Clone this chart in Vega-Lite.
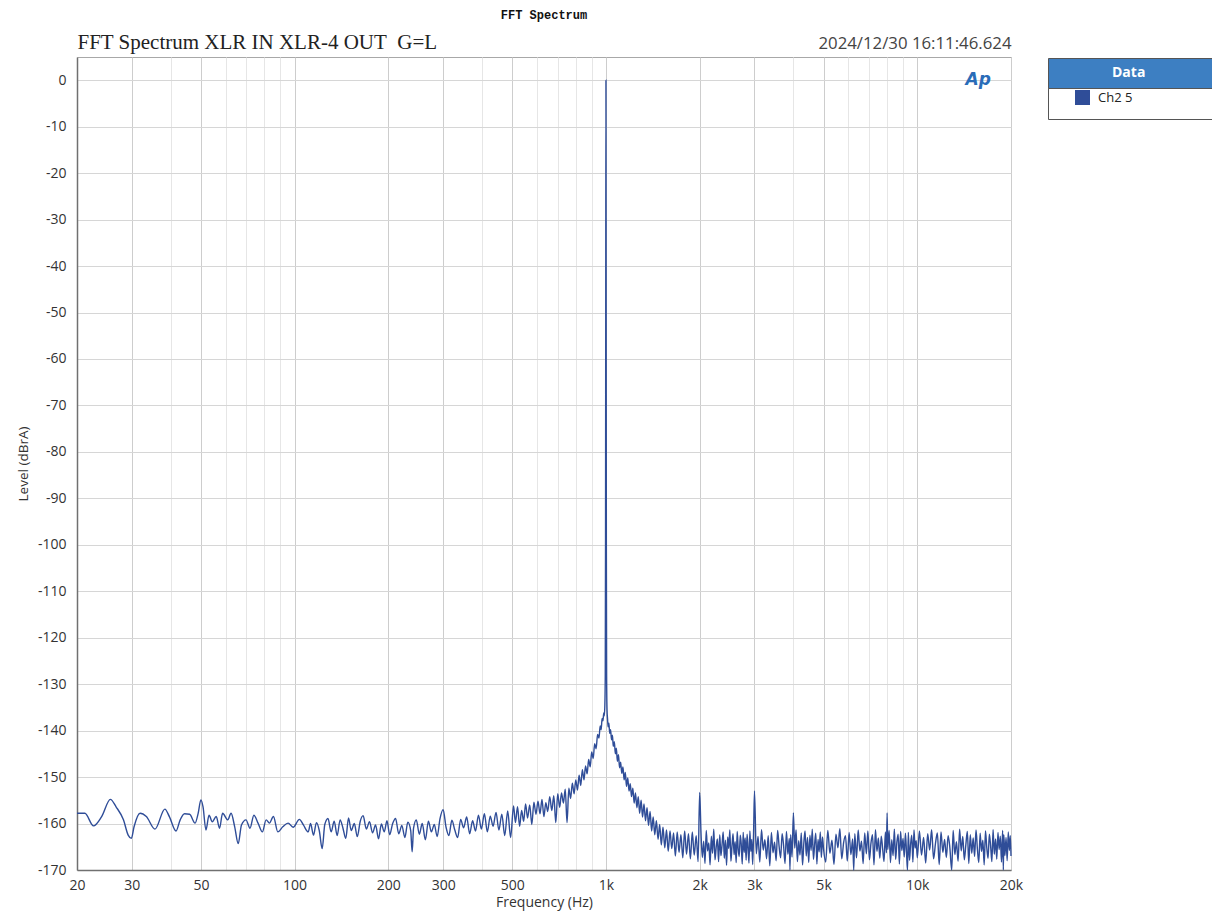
{
"$schema": "https://vega.github.io/schema/vega-lite/v6.json",
"width": 934, "height": 813,
"autosize": {"type": "none"},
"padding": {"left": 77, "top": 57, "right": 201, "bottom": 44},
"background": "white",
"config": {"view": {"stroke": "#a8a8a8"}, "font": "Open Sans"},
"title": {"text": "FFT Spectrum", "font": "Liberation Mono", "fontSize": 12, "fontWeight": "bold", "color": "#111", "anchor": "middle", "frame": "group", "offset": 9},
"datasets": {"spectrum": [
{"hz":20,"db":-157.8},{"hz":21.2,"db":-157.8},{"hz":22.6,"db":-160.5},{"hz":24,"db":-158.5},{"hz":25.6,"db":-154.8},{"hz":26.7,"db":-156.4},{"hz":28.2,"db":-159.2},{"hz":29.2,"db":-162.5},{"hz":29.9,"db":-163.2},{"hz":30.5,"db":-160.7},{"hz":31.9,"db":-157.8},{"hz":33.4,"db":-158.5},{"hz":35.6,"db":-161.2},{"hz":38.3,"db":-156.9},{"hz":39.6,"db":-158.5},{"hz":41.6,"db":-161.6},{"hz":42.9,"db":-159.2},{"hz":44.3,"db":-157.9},{"hz":46,"db":-158},{"hz":47.9,"db":-159.9},{"hz":49,"db":-157.8},{"hz":50,"db":-154.9},{"hz":50.8,"db":-156.4},{"hz":51.9,"db":-161.4},{"hz":53.1,"db":-158.2},{"hz":54.4,"db":-159.6},{"hz":56,"db":-158.5},{"hz":57.4,"db":-161},{"hz":58.7,"db":-157.8},{"hz":61,"db":-159.2},{"hz":62.5,"db":-157.8},{"hz":64.2,"db":-160.7},{"hz":65.9,"db":-164.3},{"hz":67.5,"db":-160.3},{"hz":69.8,"db":-159.2},{"hz":71.9,"db":-161},{"hz":74,"db":-158.2},{"hz":76.3,"db":-159.9},{"hz":78.8,"db":-161.8},{"hz":81,"db":-159.2},{"hz":83,"db":-159.9},{"hz":85.5,"db":-158.5},{"hz":88.3,"db":-161.8},{"hz":91.6,"db":-160.7},{"hz":95.3,"db":-159.9},{"hz":98.9,"db":-160.8},{"hz":103.6,"db":-159.1},{"hz":106.7,"db":-160.3},{"hz":110.6,"db":-161.8},
{"hz":112.5,"db":-160.0},{"hz":115,"db":-162.5},{"hz":117.5,"db":-159.8},{"hz":120,"db":-161.5},{"hz":122.6,"db":-165.4},{"hz":125,"db":-160.2},{"hz":128,"db":-158.9},{"hz":131,"db":-161.8},{"hz":134,"db":-159.5},{"hz":137,"db":-162.6},{"hz":140,"db":-159.2},{"hz":143,"db":-161.0},{"hz":146,"db":-163.2},{"hz":149,"db":-158.8},{"hz":152,"db":-161.5},{"hz":155.5,"db":-160.0},{"hz":159,"db":-162.8},{"hz":162.5,"db":-159.5},{"hz":166,"db":-158.3},{"hz":170,"db":-161.2},{"hz":174,"db":-159.6},{"hz":178,"db":-162.0},{"hz":182,"db":-160.3},{"hz":186,"db":-163.3},{"hz":190,"db":-160.1},{"hz":194,"db":-161.8},{"hz":198,"db":-159.4},{"hz":202,"db":-162.4},{"hz":206.5,"db":-160.0},{"hz":211,"db":-158.9},{"hz":216,"db":-162.2},{"hz":221,"db":-160.4},{"hz":226,"db":-163.0},{"hz":231,"db":-159.7},{"hz":236,"db":-161.5},{"hz":238.5,"db":-166.1},{"hz":241,"db":-161.0},{"hz":246,"db":-159.2},{"hz":251.5,"db":-162.3},{"hz":257,"db":-160.0},{"hz":263,"db":-163.5},{"hz":269,"db":-159.5},{"hz":275,"db":-161.8},{"hz":281,"db":-160.2},{"hz":287,"db":-162.8},{"hz":293,"db":-159.0},{"hz":300,"db":-157.0},{"hz":306.5,"db":-160.8},{"hz":313,"db":-162.6},{"hz":320,"db":-159.3},{"hz":327,"db":-161.4},{"hz":334,"db":-163.0},{"hz":341.5,"db":-159.1},{"hz":349,"db":-160.9},{"hz":357,"db":-158.6},{"hz":365,"db":-162.2},{"hz":373,"db":-159.4},{"hz":381,"db":-161.6},{"hz":389.5,"db":-158.2},{"hz":398,"db":-161.2},{"hz":407,"db":-157.9},{"hz":416,"db":-161.8},{"hz":425,"db":-158.4},{"hz":434,"db":-160.6},{"hz":443.5,"db":-157.6},{"hz":453,"db":-161.4},{"hz":463,"db":-158.0},{"hz":473,"db":-162.6},{"hz":483.5,"db":-157.3},{"hz":494,"db":-163.0},{"hz":505,"db":-156.2},
{"hz":512,"db":-159.8},{"hz":520,"db":-156.4},{"hz":528,"db":-160.6},{"hz":536,"db":-157.2},{"hz":544,"db":-159.5},{"hz":552,"db":-155.8},{"hz":560,"db":-158.8},{"hz":569,"db":-156.0},{"hz":578,"db":-160.2},{"hz":587,"db":-155.4},{"hz":596,"db":-158.0},{"hz":605,"db":-155.2},{"hz":614,"db":-157.9},{"hz":623,"db":-154.8},{"hz":632,"db":-158.5},{"hz":641,"db":-155.5},{"hz":650,"db":-157.4},{"hz":660,"db":-154.2},{"hz":670,"db":-157.2},{"hz":680,"db":-154.0},{"hz":690,"db":-159.8},{"hz":700,"db":-153.6},{"hz":710,"db":-156.5},{"hz":720,"db":-153.4},{"hz":730,"db":-155.6},{"hz":740,"db":-152.6},{"hz":750,"db":-159.8},{"hz":760,"db":-152.4},{"hz":770,"db":-154.6},{"hz":780,"db":-151.3},{"hz":790,"db":-153.6},{"hz":800,"db":-150.6},{"hz":810,"db":-152.8},{"hz":820,"db":-149.6},{"hz":830,"db":-151.8},{"hz":840,"db":-148.4},{"hz":850,"db":-150.6},{"hz":860,"db":-147.6},{"hz":870,"db":-149.3},{"hz":880,"db":-146.2},{"hz":890,"db":-147.8},{"hz":900,"db":-144.6},{"hz":910,"db":-146.0},{"hz":920,"db":-142.8},{"hz":930,"db":-143.9},{"hz":940,"db":-140.8},{"hz":950,"db":-141.6},{"hz":958,"db":-139.0},{"hz":965,"db":-139.8},{"hz":972,"db":-137.4},{"hz":978,"db":-137.9},{"hz":984,"db":-136.2},{"hz":988,"db":-136.8},{"hz":992,"db":-134.5},{"hz":995,"db":-128},{"hz":997,"db":-100},{"hz":998.5,"db":-50},{"hz":1000,"db":0},{"hz":1001.5,"db":-50},{"hz":1003,"db":-100},{"hz":1005,"db":-128},{"hz":1008,"db":-135.5},{"hz":1012,"db":-137.5},
{"hz":1016,"db":-139.2},{"hz":1022,"db":-138.4},{"hz":1028,"db":-140.6},{"hz":1035,"db":-139.8},{"hz":1042,"db":-142.0},{"hz":1049,"db":-141.0},{"hz":1056,"db":-143.4},{"hz":1064,"db":-142.4},{"hz":1072,"db":-145.0},{"hz":1080,"db":-143.8},{"hz":1088,"db":-146.6},{"hz":1097,"db":-145.2},{"hz":1106,"db":-148.0},{"hz":1115,"db":-146.8},{"hz":1124,"db":-149.2},{"hz":1134,"db":-147.8},{"hz":1144,"db":-150.6},{"hz":1154,"db":-149.0},{"hz":1164,"db":-152.0},{"hz":1175,"db":-150.2},{"hz":1186,"db":-153.0},{"hz":1197,"db":-151.4},{"hz":1208,"db":-154.2},{"hz":1220,"db":-152.4},{"hz":1232,"db":-155.6},{"hz":1244,"db":-153.4},{"hz":1257,"db":-156.6},{"hz":1270,"db":-154.2},{"hz":1283,"db":-157.8},{"hz":1297,"db":-155.0},{"hz":1311,"db":-158.6},{"hz":1325,"db":-155.8},{"hz":1340,"db":-159.4},{"hz":1355,"db":-156.6},{"hz":1370,"db":-160.4},{"hz":1386,"db":-157.4},{"hz":1402,"db":-161.6},{"hz":1418,"db":-158.6},{"hz":1435,"db":-162.4},{"hz":1452,"db":-159.4},{"hz":1470,"db":-163.4},{"hz":1488,"db":-160.2},{"hz":1506,"db":-164.6},{"hz":1525,"db":-160.8},{"hz":1545,"db":-165.2},{"hz":1565,"db":-161.4},{"hz":1585,"db":-166.0},{"hz":1606,"db":-161.6},{"hz":1627,"db":-165.4},{"hz":1649,"db":-162.0},{"hz":1671,"db":-167.0},{"hz":1694,"db":-161.8},{"hz":1717,"db":-166.2},{"hz":1741,"db":-162.4},{"hz":1765,"db":-167.4},{"hz":1790,"db":-161.6},{"hz":1815,"db":-166.6},{"hz":1841,"db":-162.2},{"hz":1867,"db":-167.6},{"hz":1894,"db":-161.8},{"hz":1921,"db":-166.8},{"hz":1949,"db":-162.6},{"hz":1977,"db":-168.2},
{"hz":2000,"db":-153.3},{"hz":2020,"db":-162.1},{"hz":2040,"db":-167.3},{"hz":2060,"db":-163.8},{"hz":2080,"db":-168.6},{"hz":2100,"db":-161.5},{"hz":2120,"db":-165.9},{"hz":2140,"db":-164.2},{"hz":2160,"db":-168.9},{"hz":2180,"db":-162.7},{"hz":2200,"db":-166.4},{"hz":2220,"db":-161.2},{"hz":2240,"db":-167.8},{"hz":2260,"db":-165.1},{"hz":2280,"db":-163.3},{"hz":2300,"db":-168.2},{"hz":2320,"db":-162.4},{"hz":2340,"db":-166.9},{"hz":2360,"db":-164.6},{"hz":2380,"db":-161.8},{"hz":2400,"db":-167.5},{"hz":2420,"db":-163.6},{"hz":2440,"db":-169.0},{"hz":2460,"db":-162.9},{"hz":2480,"db":-165.4},{"hz":2500,"db":-161.4},{"hz":2520,"db":-168.1},{"hz":2540,"db":-164.9},{"hz":2560,"db":-162.2},{"hz":2580,"db":-166.7},{"hz":2600,"db":-163.9},{"hz":2620,"db":-168.4},{"hz":2640,"db":-161.7},{"hz":2660,"db":-165.6},{"hz":2680,"db":-167.1},{"hz":2700,"db":-162.5},{"hz":2720,"db":-164.4},{"hz":2740,"db":-168.7},{"hz":2760,"db":-161.9},{"hz":2780,"db":-166.2},{"hz":2800,"db":-163.1},{"hz":2820,"db":-167.9},{"hz":2840,"db":-162.3},{"hz":2860,"db":-165.2},{"hz":2880,"db":-168.5},{"hz":2900,"db":-161.6},{"hz":2920,"db":-166.0},{"hz":2940,"db":-163.4},{"hz":2960,"db":-168.8},{"hz":2980,"db":-162.0},
{"hz":3000,"db":-153.0},{"hz":3040,"db":-166.5},{"hz":3080,"db":-162.8},{"hz":3120,"db":-168.3},{"hz":3160,"db":-161.3},{"hz":3200,"db":-165.7},{"hz":3240,"db":-163.5},{"hz":3280,"db":-167.6},{"hz":3320,"db":-162.6},{"hz":3360,"db":-169.1},{"hz":3400,"db":-161.9},{"hz":3440,"db":-166.3},{"hz":3480,"db":-164.0},{"hz":3520,"db":-168.0},{"hz":3560,"db":-161.5},{"hz":3600,"db":-165.0},{"hz":3640,"db":-167.4},{"hz":3680,"db":-162.2},{"hz":3720,"db":-164.7},{"hz":3760,"db":-168.6},{"hz":3800,"db":-161.7},{"hz":3840,"db":-166.6},{"hz":3880,"db":-163.2},{"hz":3900,"db":-170.0},{"hz":3920,"db":-162.4},{"hz":3960,"db":-167.2},{"hz":4000,"db":-157.7},{"hz":4040,"db":-165.3},{"hz":4080,"db":-161.4},{"hz":4120,"db":-168.2},{"hz":4160,"db":-163.7},{"hz":4200,"db":-166.8},{"hz":4240,"db":-162.0},{"hz":4280,"db":-168.9},{"hz":4320,"db":-164.3},{"hz":4360,"db":-161.6},{"hz":4400,"db":-167.0},{"hz":4440,"db":-163.0},{"hz":4480,"db":-168.4},{"hz":4520,"db":-162.5},{"hz":4560,"db":-165.8},{"hz":4600,"db":-161.2},{"hz":4640,"db":-167.7},{"hz":4680,"db":-164.5},{"hz":4720,"db":-162.1},{"hz":4760,"db":-168.7},{"hz":4800,"db":-163.4},{"hz":4840,"db":-166.1},{"hz":4880,"db":-161.8},{"hz":4920,"db":-167.3},{"hz":4960,"db":-162.9},
{"hz":5000,"db":-165.5},{"hz":5080,"db":-168.3},{"hz":5160,"db":-161.5},{"hz":5240,"db":-166.4},{"hz":5320,"db":-163.6},{"hz":5400,"db":-168.8},{"hz":5480,"db":-162.3},{"hz":5560,"db":-165.2},{"hz":5640,"db":-161.1},{"hz":5720,"db":-167.6},{"hz":5800,"db":-164.1},{"hz":5880,"db":-162.6},{"hz":5960,"db":-168.1},{"hz":6040,"db":-161.9},{"hz":6120,"db":-166.7},{"hz":6200,"db":-163.3},{"hz":6250,"db":-170.0},{"hz":6300,"db":-162.2},{"hz":6380,"db":-167.4},{"hz":6460,"db":-161.4},{"hz":6540,"db":-165.9},{"hz":6620,"db":-163.8},{"hz":6700,"db":-168.6},{"hz":6780,"db":-162.0},{"hz":6860,"db":-166.5},{"hz":6940,"db":-161.6},{"hz":7020,"db":-167.8},{"hz":7100,"db":-164.2},{"hz":7180,"db":-162.4},{"hz":7260,"db":-168.9},{"hz":7340,"db":-161.3},{"hz":7420,"db":-166.0},{"hz":7500,"db":-163.1},{"hz":7580,"db":-167.5},{"hz":7660,"db":-162.7},{"hz":7740,"db":-165.4},{"hz":7820,"db":-168.2},{"hz":7900,"db":-161.8},{"hz":7960,"db":-166.3},{"hz":8000,"db":-157.7},{"hz":8040,"db":-165.6},{"hz":8120,"db":-161.5},{"hz":8200,"db":-168.4},{"hz":8280,"db":-163.5},{"hz":8360,"db":-166.9},{"hz":8440,"db":-161.2},{"hz":8520,"db":-167.7},{"hz":8600,"db":-164.0},{"hz":8680,"db":-162.3},{"hz":8760,"db":-168.7},{"hz":8840,"db":-161.7},{"hz":8920,"db":-165.8},{"hz":9000,"db":-163.2},{"hz":9080,"db":-167.2},{"hz":9160,"db":-162.1},{"hz":9240,"db":-166.6},{"hz":9300,"db":-170.0},{"hz":9360,"db":-161.9},{"hz":9440,"db":-167.9},{"hz":9520,"db":-164.4},{"hz":9600,"db":-162.5},{"hz":9680,"db":-168.3},{"hz":9760,"db":-161.4},{"hz":9840,"db":-165.3},{"hz":9920,"db":-163.7},
{"hz":10000,"db":-167.4},{"hz":10160,"db":-161.6},{"hz":10320,"db":-166.8},{"hz":10480,"db":-163.0},{"hz":10640,"db":-168.5},{"hz":10800,"db":-162.2},{"hz":10960,"db":-165.7},{"hz":11120,"db":-161.3},{"hz":11280,"db":-167.6},{"hz":11440,"db":-164.3},{"hz":11600,"db":-162.0},{"hz":11760,"db":-168.8},{"hz":11920,"db":-161.8},{"hz":12080,"db":-166.2},{"hz":12240,"db":-163.4},{"hz":12400,"db":-167.3},{"hz":12560,"db":-162.6},{"hz":12720,"db":-165.1},{"hz":12900,"db":-170.0},{"hz":13040,"db":-161.5},{"hz":13200,"db":-166.7},{"hz":13360,"db":-163.9},{"hz":13520,"db":-168.1},{"hz":13680,"db":-161.2},{"hz":13840,"db":-165.9},{"hz":14000,"db":-162.8},{"hz":14160,"db":-167.8},{"hz":14320,"db":-164.6},{"hz":14480,"db":-161.7},{"hz":14640,"db":-168.6},{"hz":14800,"db":-162.4},{"hz":14960,"db":-166.4},{"hz":15120,"db":-163.1},{"hz":15280,"db":-167.1},{"hz":15440,"db":-161.4},{"hz":15600,"db":-165.5},{"hz":15760,"db":-168.4},{"hz":15920,"db":-162.1},{"hz":16080,"db":-166.0},{"hz":16240,"db":-163.6},{"hz":16400,"db":-168.9},{"hz":16560,"db":-161.6},{"hz":16720,"db":-165.2},{"hz":16880,"db":-167.5},{"hz":17040,"db":-162.3},{"hz":17200,"db":-164.8},{"hz":17360,"db":-168.2},{"hz":17520,"db":-161.3},{"hz":17680,"db":-166.6},{"hz":17840,"db":-163.3},{"hz":18000,"db":-167.7},{"hz":18160,"db":-161.9},{"hz":18320,"db":-165.6},{"hz":18480,"db":-162.7},{"hz":18640,"db":-168.3},{"hz":18800,"db":-161.5},{"hz":18900,"db":-170.0},{"hz":18960,"db":-162.4},{"hz":19120,"db":-166.9},{"hz":19280,"db":-163.0},{"hz":19440,"db":-168.0},{"hz":19600,"db":-161.8},{"hz":19760,"db":-165.8},{"hz":19900,"db":-162.6},{"hz":20000,"db":-167.0}
]},
"resolve": {"axis": {"x": "independent"}},
"layer": [
{
"data": {"name": "spectrum"},
"mark": {"type": "line", "strokeWidth": 1.4, "interpolate": "monotone"},
"encoding": {
"x": {"field": "hz", "type": "quantitative",
 "scale": {"type": "log", "domain": [20, 20000], "nice": false},
 "axis": {"orient": "bottom",
  "values": [20,30,40,50,60,70,80,90,100,200,300,400,500,600,700,800,900,1000,2000,3000,4000,5000,6000,7000,8000,9000,10000,20000],
  "labelExpr": "indexof([20,30,50,100,200,300,500], datum.value) >= 0 ? '' + datum.value : (indexof([1000,2000,3000,5000,10000,20000], datum.value) >= 0 ? (datum.value / 1000) + 'k' : '')",
  "gridColor": {"condition": {"test": "indexof([20,30,50,100,200,300,500,1000,2000,3000,5000,10000,20000], datum.value) >= 0", "value": "#cdcdcd"}, "value": "#e6e6e6"},
  "ticks": false, "domainColor": "#707070", "domainWidth": 1.5,
  "labelFlush": false, "labelOverlap": false, "labelPadding": 8,
  "labelFont": "Open Sans", "labelFontSize": 14, "labelColor": "#333",
  "title": "Frequency (Hz)", "titleFont": "Open Sans", "titleFontSize": 14, "titleFontWeight": "normal", "titleColor": "#333", "titlePadding": 3}},
"y": {"field": "db", "type": "quantitative",
 "scale": {"domain": [-170, 5], "nice": false, "zero": false},
 "axis": {"values": [-170,-160,-150,-140,-130,-120,-110,-100,-90,-80,-70,-60,-50,-40,-30,-20,-10,0],
  "labelExpr": "'' + datum.value",
  "gridColor": "#d6d6d6", "ticks": false, "domainColor": "#707070", "domainWidth": 1.5,
  "labelFlush": false, "labelOverlap": false, "labelPadding": 11,
  "labelFont": "Open Sans", "labelFontSize": 14, "labelColor": "#333",
  "title": "Level (dBrA)", "titleFont": "Open Sans", "titleFontSize": 13.5, "titleFontWeight": "normal", "titleColor": "#333", "titlePadding": 7}},
"color": {"datum": "Ch2 5", "type": "nominal", "scale": {"range": ["#2f4d98"]},
 "legend": {"orient": "none", "legendX": 971, "legendY": 31, "title": null,
  "fillColor": "white", "strokeColor": "#555", "padding": 2,
  "symbolType": "square", "symbolSize": 49, "symbolStrokeWidth": 8, "symbolOffset": 25,
  "labelOffset": 8, "labelFont": "Open Sans", "labelFontSize": 13, "labelColor": "#222", "labelLimit": 500,
  "labelExpr": "'Ch2 5' + '\u00a0\u00a0\u00a0\u00a0\u00a0\u00a0\u00a0\u00a0\u00a0\u00a0\u00a0\u00a0\u00a0\u00a0\u00a0\u00a0\u00a0\u00a0\u00a0\u00a0\u00a0\u00a0\u00a0\u200b'"}}
}
},
{
"data": {"values": [{"label": "Ap"}]},
"mark": {"type": "text", "font": "DejaVu Sans", "fontStyle": "italic", "fontWeight": "bold", "fontSize": 17, "color": "#2a6cb8", "align": "center", "baseline": "middle"},
"encoding": {
"text": {"field": "label"},
"x": {"datum": 15700, "type": "quantitative",
 "axis": {"orient": "top", "values": [20, 20000], "domain": false, "ticks": false, "grid": false, "title": null,
  "labelFlush": false, "labelOverlap": false, "labelPadding": 9, "labelBaseline": "alphabetic", "labelLimit": 700,
  "labelExpr": "datum.value == 20 ? 'FFT Spectrum XLR IN XLR-4 OUT\u00a0\u00a0G=L' : '2024/12/30 16:11:46.624'",
  "labelAlign": {"condition": {"test": "datum.value == 20", "value": "left"}, "value": "right"},
  "labelFont": {"condition": {"test": "datum.value == 20", "value": "Liberation Serif"}, "value": "Open Sans"},
  "labelFontSize": {"condition": {"test": "datum.value == 20", "value": 21}, "value": 16.8},
  "labelColor": {"condition": {"test": "datum.value == 20", "value": "#222"}, "value": "#444"}}},
"y": {"datum": 0, "type": "quantitative"}
}
},
{
"data": {"values": [{"name": "Data"}]},
"mark": {"type": "point", "opacity": 0},
"encoding": {
"x": {"datum": 1000, "type": "quantitative", "axis": null},
"y": {"datum": -100, "type": "quantitative"},
"shape": {"field": "name", "type": "nominal", "scale": {"range": ["square"]},
 "legend": {"orient": "none", "legendX": 971, "legendY": 1, "title": null,
  "fillColor": "#3d7fc2", "strokeColor": "#555", "padding": 8,
  "symbolSize": 0, "symbolStrokeWidth": 0, "symbolOffset": 0,
  "labelOffset": 42, "labelFont": "Open Sans", "labelFontWeight": "bold", "labelFontSize": 14, "labelColor": "white", "labelLimit": 500,
  "labelExpr": "'Data' + '\u00a0\u00a0\u00a0\u00a0\u00a0\u00a0\u00a0\u00a0\u00a0\u00a0\u00a0\u00a0\u00a0\u00a0\u00a0\u00a0\u00a0\u200b'"}}
}
}
]
}
